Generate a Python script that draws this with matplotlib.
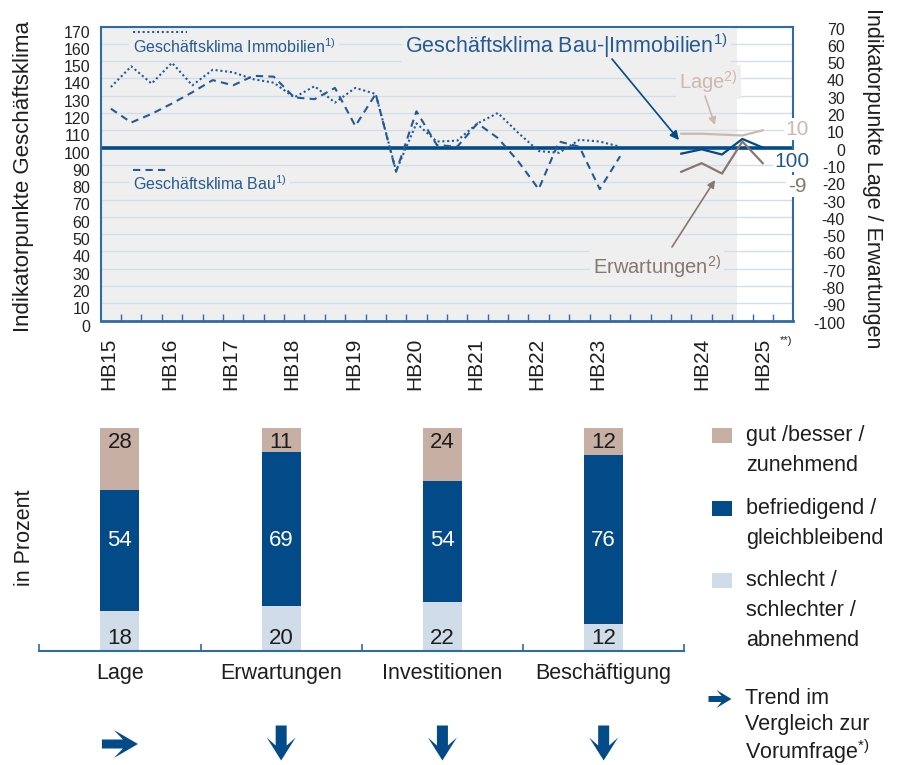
import matplotlib
matplotlib.use("Agg")
import matplotlib.pyplot as plt
import numpy as np
from matplotlib.patches import Polygon, Rectangle
from matplotlib.transforms import ScaledTranslation

plt.rcParams["font.family"] = ["Liberation Sans", "DejaVu Sans"]
plt.rcParams["mathtext.fontset"] = "custom"
plt.rcParams["mathtext.rm"] = "Liberation Sans"
plt.rcParams["mathtext.default"] = "regular"
plt.rcParams["axes.unicode_minus"] = False

# ---- data: top chart (business climate) ----
immobilien = [135, 147, 137, 149, 136, 145, 143.5, 139.5, 137.5, 129, 135.5, 126, 134.5,
              131, 86.5, 114, 103.5, 104, 114, 120, 108.5, 98, 97, 104.5, 103.5, 100.5]
bau = [122.5, 114.5, 119.5, 125.5, 132, 139, 136, 141.5, 141, 129, 128, 134.5, 112.5,
       131, 86, 121, 101.5, 100.5, 114, 105.5, 92, 76, 103.5, 100.5, 76, 95]
klima_bau_immo = [96.5, 99, 96, 105, 100]
lage = [8, 8, 7.5, 7, 10]
erwartungen = [-14, -9, -15, 3.5, -9]
hb_labels = ["HB15", "HB16", "HB17", "HB18", "HB19", "HB20", "HB21", "HB22", "HB23", "HB24", "HB25"]
hb_pos = [0.4, 3.4, 6.4, 9.4, 12.4, 15.4, 18.4, 21.4, 24.4, 29.5, 32.5]

# ---- data: bottom chart (survey shares, percent) ----
categories = ["Lage", "Erwartungen", "Investitionen", "Beschäftigung"]
gut = [28, 11, 24, 12]
befriedigend = [54, 69, 54, 76]
schlecht = [18, 20, 22, 12]
trend = ["right", "down", "down", "down"]

DARK = "#034a89"
SPINE = "#2f6ca6"
TXTBLUE = "#245a93"
GRID = "#d3deeb"
BG = "#efefef"
TAN = "#c7afa4"
LAGE_C = "#cdb8ae"
ERW_C = "#867770"
LIGHT = "#d0dce8"
INK = "#1e1e1e"
FS = 15.5

fig = plt.figure(figsize=(8.98, 7.65), dpi=100, facecolor="white")

# ---------------- top chart ----------------
ax = fig.add_axes([100.7 / 898, 1 - 320.6 / 765, 692.6 / 898, 294.1 / 765])
ax.set_xlim(0, 34)
ax.set_ylim(0, 170)
ax.axvspan(0, 31.25, color=BG, zorder=0, lw=0)
ax.set_yticks(range(0, 171, 10))
ax.grid(axis="y", color=GRID, lw=1)
ax.set_axisbelow(True)
ax.axhline(100, color=DARK, lw=2.6, zorder=2)

x1 = np.arange(len(immobilien)) + 0.5
ax.plot(x1, immobilien, color=TXTBLUE, lw=1.5, ls=(0, (1, 1.3)), zorder=3)
ax.plot(x1, bau, color=TXTBLUE, lw=1.5, ls=(0, (3.5, 2.5)), zorder=3)
x2 = np.arange(len(klima_bau_immo)) + 28.5
ax.plot(x2, klima_bau_immo, color=DARK, lw=1.6, zorder=4)

for s in ax.spines.values():
    s.set_color(SPINE)
    s.set_linewidth(1.5)
ax.spines["bottom"].set_linewidth(2)

ax.set_xticks(hb_pos, hb_labels, rotation=90, fontsize=15, va="top", ha="center")
ax.set_xticks(np.arange(1, 34), minor=True)
ax.tick_params(axis="x", which="major", length=0, pad=12.5, colors=INK)
ax.tick_params(axis="x", which="minor", direction="in", length=5, width=1, color=SPINE)
ax.tick_params(axis="y", length=0, pad=7.7, labelsize=11.5, labelcolor="#222222")
for lb in ax.get_yticklabels():
    lb.set_transform(lb.get_transform() + ScaledTranslation(0, -0.05, fig.dpi_scale_trans))

ax2 = ax.twinx()
ax2.set_ylim(-100, 70)
ax2.set_yticks(range(-100, 71, 10))
ax2.plot(x2, lage, color=LAGE_C, lw=1.6, zorder=4)
ax2.plot(x2, erwartungen, color=ERW_C, lw=1.6, zorder=4)
for s in ax2.spines.values():
    s.set_visible(False)
ax2.tick_params(axis="y", length=0, pad=37.2, labelsize=11.5, labelcolor="#222222")
for lb in ax2.get_yticklabels():
    lb.set_horizontalalignment("right")
    lb.set_transform(lb.get_transform() + ScaledTranslation(0, -0.02, fig.dpi_scale_trans))

# ---------------- bottom chart ----------------
axb = fig.add_axes([39.3 / 898, 1 - 650.7 / 765, 645 / 898, 222.7 / 765])
xb = np.arange(len(categories))
w = 0.242
axb.bar(xb, schlecht, w, color=LIGHT)
axb.bar(xb, befriedigend, w, bottom=schlecht, color=DARK)
axb.bar(xb, gut, w, bottom=np.add(schlecht, befriedigend), color=TAN)
axb.set_xlim(-0.5, 3.5)
axb.set_ylim(0, 100)
for i in range(len(categories)):
    axb.text(i, 93.5, str(gut[i]), ha="center", va="center", fontsize=16, color=INK)
    axb.text(i, 49.5, str(befriedigend[i]), ha="center", va="center", fontsize=16, color="white")
    axb.text(i, 5.3, str(schlecht[i]), ha="center", va="center", fontsize=16, color=INK)
for k in ("left", "right", "top"):
    axb.spines[k].set_visible(False)
axb.spines["bottom"].set_color(SPINE)
axb.spines["bottom"].set_linewidth(1.5)
axb.set_yticks([])
axb.set_xticks(xb, categories, fontsize=FS, color=INK)
axb.set_xticks(np.arange(-0.5, 3.6, 1), minor=True)
axb.tick_params(axis="x", which="major", length=0, pad=9)
axb.tick_params(axis="x", which="minor", direction="in", length=5, width=1.2, color=SPINE)

# ---------------- overlay for annotations (pixel coords) ----------------
ov = fig.add_axes([0, 0, 1, 1], zorder=10)
ov.set_xlim(0, 898)
ov.set_ylim(765, 0)
ov.axis("off")

ov.text(24, 176, "Indikatorpunkte Geschäftsklima", rotation=90, ha="center", va="center",
        fontsize=16, color=INK)
ov.text(872, 178, "Indikatorpunkte Lage / Erwartungen", rotation=270, ha="center",
        va="center", fontsize=15.5, color=INK)
ov.text(25, 538, "in Prozent", rotation=90, ha="center", va="center", fontsize=15.5, color=INK)

box = dict(facecolor=BG, edgecolor="none", pad=2.5)
ov.plot([133, 187], [32, 32], color=TXTBLUE, lw=1.5, ls=(0, (1, 1.3)))
ov.text(133, 47, "Geschäftsklima Immobilien$^{1)}$", ha="left", va="center", fontsize=11.5,
        color=TXTBLUE, bbox=box)
ov.plot([133, 168], [170, 170], color=TXTBLUE, lw=1.5, ls=(0, (3.5, 2.5)))
ov.text(133, 184, "Geschäftsklima Bau$^{1)}$", ha="left", va="center", fontsize=11.5,
        color=TXTBLUE, bbox=box)
ov.text(405, 46, "Geschäftsklima Bau-|Immobilien$^{1)}$", ha="left", va="center",
        fontsize=15.5, color=TXTBLUE, bbox=box)
ov.annotate("", xy=(679, 140), xytext=(612, 59),
            arrowprops=dict(arrowstyle="-|>", color=DARK, lw=1.2, mutation_scale=13,
                            shrinkA=0, shrinkB=0))
ov.text(679, 82, "Lage$^{2)}$", ha="left", va="center", fontsize=14.5, color=LAGE_C, bbox=box)
ov.annotate("", xy=(715, 125), xytext=(705, 96),
            arrowprops=dict(arrowstyle="-|>", color=LAGE_C, lw=1.2, mutation_scale=11,
                            shrinkA=0, shrinkB=0))
ov.text(593, 267, "Erwartungen$^{2)}$", ha="left", va="center", fontsize=14.5, color=ERW_C,
        bbox=box)
ov.annotate("", xy=(715, 180), xytext=(672, 247),
            arrowprops=dict(arrowstyle="-|>", color=ERW_C, lw=1.2, mutation_scale=11,
                            shrinkA=0, shrinkB=0))

wbox = dict(facecolor="white", edgecolor="none", pad=1)
ov.text(797, 129, "10", ha="center", va="center", fontsize=15, color=LAGE_C, bbox=wbox)
ov.text(792, 161, "100", ha="center", va="center", fontsize=15, color=TXTBLUE, bbox=wbox)
ov.text(797, 186, "-9", ha="center", va="center", fontsize=15, color=ERW_C, bbox=wbox)
ov.text(786, 341, "**)", ha="center", va="center", fontsize=8, color=INK)


def arrow(cx, cy, L, H, t, a, b, direction):
    pts = np.array([(0, -t), (a, -t), (b, -H), (L, 0), (b, H), (a, t), (0, t)], float)
    pts[:, 0] -= L / 2
    if direction == "down":
        pts = pts[:, ::-1]
    pts += (cx, cy)
    ov.add_patch(Polygon(pts, closed=True, facecolor=DARK, edgecolor="none"))


for i, d in enumerate(trend):
    cx = axb.transData.transform((i, 0))[0]
    if d == "right":
        arrow(cx, 744, 36, 14, 4.5, 21, 12, d)
    else:
        arrow(cx, 743, 35, 14.5, 5.5, 20, 12, d)

# legend
leg_colors = [TAN, DARK, LIGHT]
leg_lines = [["gut /besser /", "zunehmend"],
             ["befriedigend /", "gleichbleibend"],
             ["schlecht /", "schlechter /", "abnehmend"]]
leg_y = [435.5, 508.3, 580.7]
for c, lines, y in zip(leg_colors, leg_lines, leg_y):
    ov.add_patch(Rectangle((711.7, y - 7.5), 20, 15, facecolor=c, edgecolor="none"))
    for j, s in enumerate(lines):
        ov.text(746, y + j * 30, s, ha="left", va="center", fontsize=FS, color=INK)

arrow(720, 699, 23, 9, 3, 13, 8, "right")
for j, s in enumerate(["Trend im", "Vergleich zur", "Vorumfrage$^{*)}$"]):
    ov.text(745, 698 + j * 26.8, s, ha="left", va="center", fontsize=FS, color=INK)

fig.savefig("out.png", dpi=100, facecolor="white")
